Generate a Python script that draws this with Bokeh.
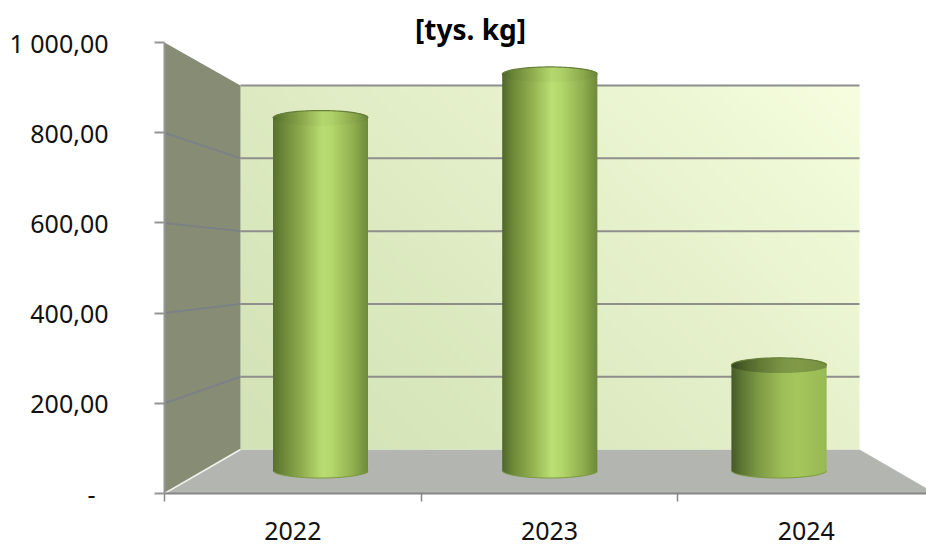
from bokeh.plotting import figure
from bokeh.models import Range1d, FixedTicker
from bokeh.core.properties import value
from bokeh.embed import file_html
from bokeh.resources import INLINE
import numpy as np

categories = ["2022", "2023", "2024"]
values = [865, 972, 258]
value_ticks = [0, 200, 400, 600, 800, 1000]
value_labels = ["-\u00a0\u00a0", "200,00", "400,00", "600,00", "800,00", "1 000,00"]
title_text = "[tys. kg]"

W, H = 926, 546
PX_X = 256.7      # px per category
PX_Y = 0.451      # px per value unit on the front plane
LEFT, ZERO_PX = 164, 493
FONT = "Noto Sans"

x_end = (W - LEFT) / PX_X
y_end = ZERO_PX / PX_Y

p = figure(frame_width=W - LEFT, frame_height=ZERO_PX, output_backend="svg", toolbar_location=None,
           x_range=Range1d(0, x_end), y_range=Range1d(0, y_end),
           min_border_left=LEFT, min_border_right=0, min_border_top=0,
           min_border_bottom=H - ZERO_PX, outline_line_color=None,
           background_fill_color="white", border_fill_color="white")
p.grid.visible = False

BACK_DX, BACK_RIGHT, BACK_Y0, BACK_SCALE = 76 / PX_X, 695 / PX_X, 44 / PX_Y, 0.807
def back_y(v):
    return BACK_Y0 + BACK_SCALE * v

# floor
p.patch([0, BACK_DX, BACK_RIGHT, BACK_RIGHT + BACK_DX], [0, back_y(0), back_y(0), 0],
        fill_color="#b3b5b0", line_color=None)

# back wall gradient
nx, ny = 620, 364
u = np.linspace(0, 1, nx)[None, :]
t = np.linspace(0, 1, ny)[:, None]
g = np.clip(0.62 * u + 0.38 * t, 0, 1) ** 1.3
c0, c1 = np.array([0xD4, 0xE3, 0xB6]), np.array([0xF6, 0xFE, 0xDF])
img = np.zeros((ny, nx), dtype=np.uint32)
view = img.view(np.uint8).reshape((ny, nx, 4))
for k in range(3):
    view[:, :, k] = (c0[k] + (c1[k] - c0[k]) * g).astype(np.uint8)
view[:, :, 3] = 255
p.image_rgba(image=[img], x=[BACK_DX], y=[back_y(0)], dw=[BACK_RIGHT - BACK_DX],
             dh=[back_y(1000) - back_y(0)])

# left wall
p.patch([0, BACK_DX, BACK_DX, 0], [0, back_y(0), back_y(1000), 1000],
        fill_color="#878d75", line_color=None)
p.line([0, BACK_DX], [0, back_y(0)], line_color="#f2f2ee", line_width=1.5)

# gridlines
for v in value_ticks[1:]:
    if v < 1000:
        p.line([0, BACK_DX], [v, back_y(v)], line_color="#7c8186", line_width=2)
    p.line([BACK_DX, BACK_RIGHT], [back_y(v), back_y(v)], line_color="#8e8f8c", line_width=2)

# cylinders
MID_X0, MID_STEP, HALF_W = 156.0 / PX_X, 229.2 / PX_X, 47.5 / PX_X
MID_Y0, MID_SCALE, RY = 23 / PX_Y, 0.9035, 7.5 / PX_Y

def hexrgb(s):
    return np.array([int(s[i:i + 2], 16) for i in (1, 3, 5)], dtype=float)

def ramp(stops, f):
    pos = [a for a, _ in stops]
    cols = np.array([hexrgb(c) for _, c in stops])
    return np.array([np.interp(f, pos, cols[:, k]) for k in range(3)])

def css(c):
    return "#%02x%02x%02x" % tuple(int(round(min(255, max(0, x)))) for x in c)

STOPS = [
    [(0, "#57702e"), (.12, "#6f8a3a"), (.3, "#8fac4e"), (.52, "#b9dd72"), (.62, "#b4d76c"), (.85, "#8fae4e"), (1, "#6d8a3c")],
    [(0, "#4f6829"), (.12, "#6f8a3a"), (.3, "#90ae4e"), (.52, "#badf73"), (.62, "#b4d76c"), (.85, "#8fae4e"), (1, "#6d8a3c")],
    [(0, "#465a28"), (.12, "#5f7a34"), (.3, "#7f9c46"), (.55, "#9fc059"), (.7, "#a4c65c"), (1, "#98b954")],
]
TOP_F = [0.97, 0.97, 0.78]
N = 64
for i, val in enumerate(values):
    cx = MID_X0 + MID_STEP * i
    ybot = MID_Y0
    ytop = MID_Y0 + MID_SCALE * val
    edges = np.linspace(-1, 1, N + 1)
    mids = (edges[:-1] + edges[1:]) / 2
    curve = np.sqrt(1 - mids ** 2)
    cols = [ramp(STOPS[i], (m + 1) / 2) for m in mids]
    rights = np.minimum(edges[1:] + 2 / N, 1)   # each strip overlaps the next, which hides the seams
    p.quad(left=cx + edges[:-1] * HALF_W, right=cx + rights * HALF_W,
           bottom=ybot - RY * curve, top=np.full(N, ytop),
           fill_color=[css(c) for c in cols], line_color=None)
    p.quad(left=cx + edges[:-1] * HALF_W, right=cx + rights * HALF_W,
           bottom=ytop - RY * curve, top=ytop + RY * curve,
           fill_color=[css(c * TOP_F[i]) for c in cols], line_color=None)
    th = np.linspace(0, np.pi, 60)
    p.line(cx + HALF_W * np.cos(th), ytop + RY * np.sin(th), line_color="#68803a", line_width=1.2)
    p.line(cx + HALF_W * np.cos(th), ybot - RY * np.sin(th), line_color="#7c9a42", line_width=1)

# title
p.text(x=[(470 - 164) / PX_X], y=[(493 - 28) / PX_Y], text=[title_text],
       text_font=value(FONT), text_font_style="bold", text_font_size="28px",
       text_color="#000000", text_align="center", text_baseline="middle")

# axes
ya = p.yaxis[0]
ya.ticker = FixedTicker(ticks=value_ticks)
ya.major_label_overrides = dict(zip(value_ticks, value_labels))
ya.major_label_text_font = FONT
ya.major_label_text_font_size = "25px"
ya.major_label_text_color = "#111111"
ya.major_label_standoff = 46
ya.major_tick_out = 10
ya.major_tick_in = 0
ya.minor_tick_out = 0
ya.minor_tick_in = 0
ya.axis_line_color = "#959595"
ya.axis_line_width = 2
ya.bounds = (0, 1000)
ya.major_tick_line_color = "#959595"
ya.major_tick_line_width = 2

xa = p.xaxis[0]
centers = [0.5, 1.5, 2.5]
xa.ticker = FixedTicker(ticks=centers, minor_ticks=[0, 1, 2])
xa.major_label_overrides = dict(zip(centers, categories))
xa.major_label_text_font = FONT
xa.major_label_text_font_size = "25px"
xa.major_label_text_color = "#111111"
xa.major_label_standoff = 20
xa.major_tick_out = 0
xa.major_tick_in = 0
xa.minor_tick_out = 8
xa.minor_tick_in = 0
xa.axis_line_color = "#868686"
xa.axis_line_width = 2
xa.minor_tick_line_color = "#868686"
xa.minor_tick_line_width = 1.5

open("out.html", "w").write(file_html(p, INLINE))
